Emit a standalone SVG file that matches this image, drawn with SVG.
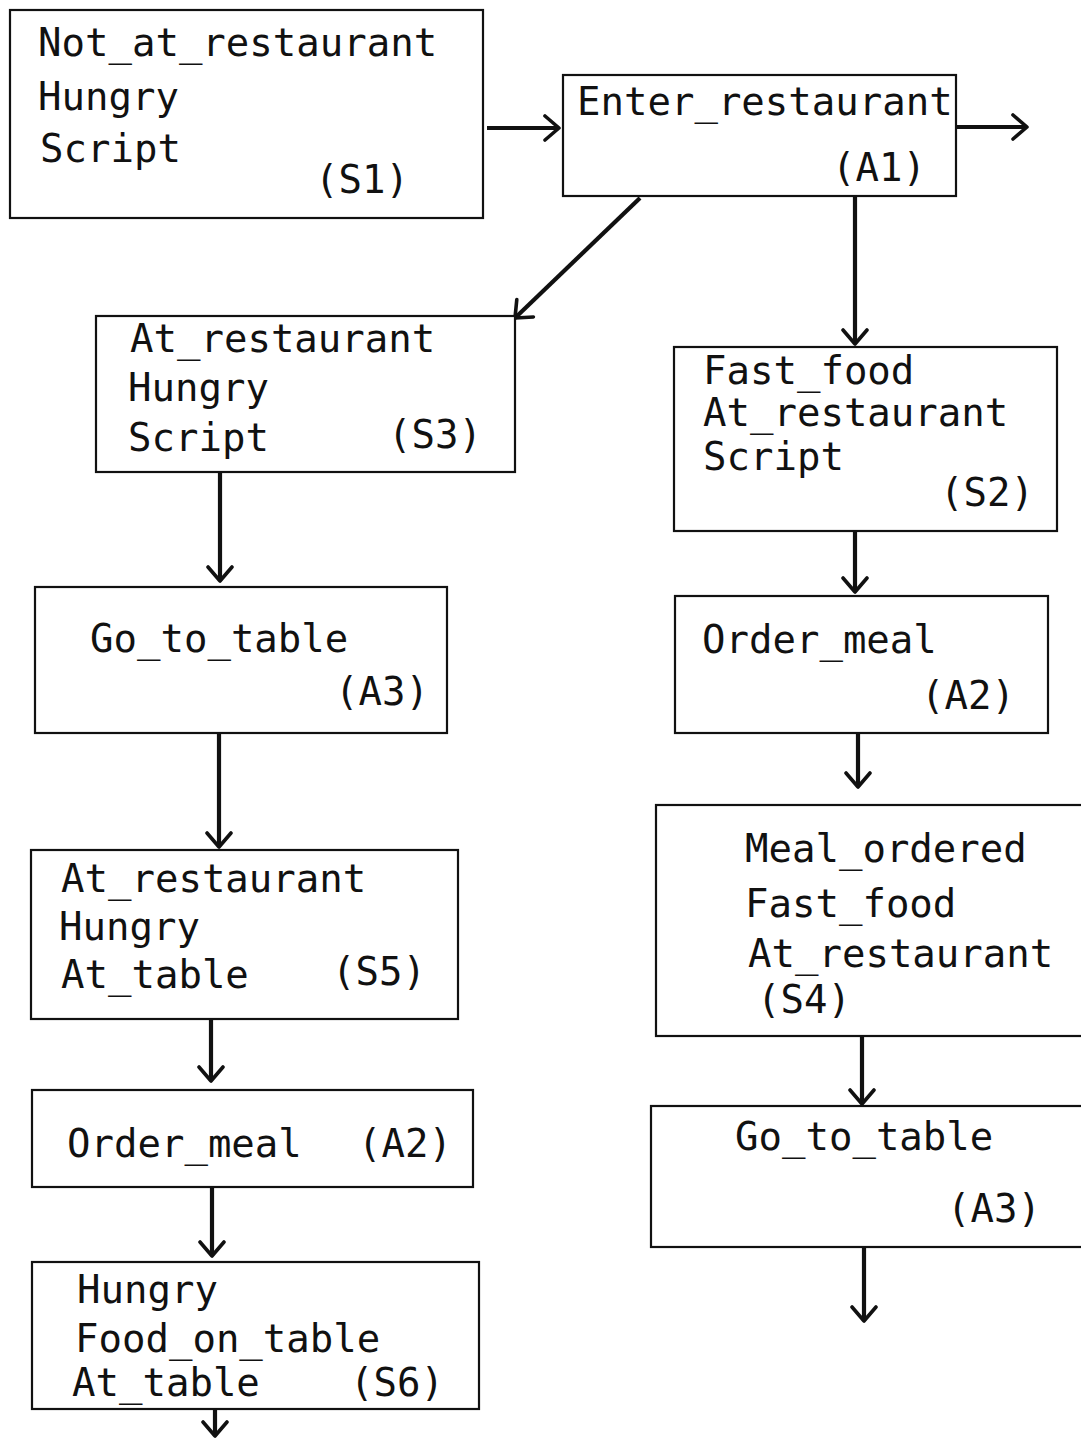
<svg xmlns="http://www.w3.org/2000/svg" width="1081" height="1441" viewBox="0 0 1081 1441">
<style>
.box{fill:#fff;stroke:#111;stroke-width:2.2}
.t{font-family:"DejaVu Sans Mono","Liberation Mono",monospace;font-size:39px;fill:#111}
.c{stroke:#111;stroke-width:4.2;fill:none;marker-end:url(#ah)}
</style>
<defs>
<marker id="ah" markerUnits="userSpaceOnUse" viewBox="-18 -15 20 30" refX="0" refY="0" markerWidth="20" markerHeight="30" orient="auto">
<path d="M-14,-12 L0,0 L-14,12" fill="none" stroke="#111" stroke-width="3.6" stroke-linecap="round" stroke-linejoin="round"/>
</marker>
</defs>
<rect width="1081" height="1441" fill="#fff"/>
<g id="connectors">
<line class="c" x1="487" y1="128" x2="559" y2="128"/>
<line class="c" x1="956" y1="127" x2="1027" y2="127"/>
<line class="c" x1="640" y1="198" x2="515" y2="318"/>
<line class="c" x1="855" y1="196" x2="855" y2="344"/>
<line class="c" x1="220" y1="472" x2="220" y2="581"/>
<line class="c" x1="855" y1="531" x2="855" y2="592"/>
<line class="c" x1="219" y1="733" x2="219" y2="847"/>
<line class="c" x1="858" y1="733" x2="858" y2="787"/>
<line class="c" x1="211" y1="1019" x2="211" y2="1081"/>
<line class="c" x1="212" y1="1187" x2="212" y2="1256"/>
<line class="c" x1="215" y1="1409" x2="215" y2="1436"/>
<line class="c" x1="862" y1="1036" x2="862" y2="1104"/>
<line class="c" x1="864" y1="1247" x2="864" y2="1321"/>
</g>
<g id="S1">
<rect class="box" x="10" y="10" width="473" height="208"/>
<text class="t" x="38" y="56">Not_at_restaurant</text>
<text class="t" x="38" y="110">Hungry</text>
<text class="t" x="40" y="162">Script</text>
<text class="t" x="315" y="193">(S1)</text>
</g>
<g id="A1">
<rect class="box" x="563" y="75" width="393" height="121"/>
<text class="t" x="577" y="115">Enter_restaurant</text>
<text class="t" x="832" y="181">(A1)</text>
</g>
<g id="S3">
<rect class="box" x="96" y="316" width="419" height="156"/>
<text class="t" x="130" y="352">At_restaurant</text>
<text class="t" x="128" y="401">Hungry</text>
<text class="t" x="128" y="451">Script</text>
<text class="t" x="388" y="448">(S3)</text>
</g>
<g id="S2">
<rect class="box" x="674" y="347" width="383" height="184"/>
<text class="t" x="703" y="384">Fast_food</text>
<text class="t" x="703" y="426">At_restaurant</text>
<text class="t" x="703" y="470">Script</text>
<text class="t" x="940" y="506">(S2)</text>
</g>
<g id="A3-left">
<rect class="box" x="35" y="587" width="412" height="146"/>
<text class="t" x="90" y="652">Go_to_table</text>
<text class="t" x="335" y="705">(A3)</text>
</g>
<g id="A2-right">
<rect class="box" x="675" y="596" width="373" height="137"/>
<text class="t" x="702" y="653">Order_meal</text>
<text class="t" x="921" y="709">(A2)</text>
</g>
<g id="S5">
<rect class="box" x="31" y="850" width="427" height="169"/>
<text class="t" x="61" y="892">At_restaurant</text>
<text class="t" x="59" y="940">Hungry</text>
<text class="t" x="61" y="988">At_table</text>
<text class="t" x="332" y="985">(S5)</text>
</g>
<g id="S4">
<rect class="box" x="656" y="805" width="430" height="231"/>
<text class="t" x="745" y="862">Meal_ordered</text>
<text class="t" x="745" y="917">Fast_food</text>
<text class="t" x="748" y="967">At_restaurant</text>
<text class="t" x="757" y="1013">(S4)</text>
</g>
<g id="A2-left">
<rect class="box" x="32" y="1090" width="441" height="97"/>
<text class="t" x="67" y="1157">Order_meal</text>
<text class="t" x="358" y="1157">(A2)</text>
</g>
<g id="A3-right">
<rect class="box" x="651" y="1106" width="435" height="141"/>
<text class="t" x="735" y="1150">Go_to_table</text>
<text class="t" x="947" y="1222">(A3)</text>
</g>
<g id="S6">
<rect class="box" x="32" y="1262" width="447" height="147"/>
<text class="t" x="77" y="1303">Hungry</text>
<text class="t" x="75" y="1352">Food_on_table</text>
<text class="t" x="72" y="1396">At_table</text>
<text class="t" x="350" y="1396">(S6)</text>
</g>
</svg>
